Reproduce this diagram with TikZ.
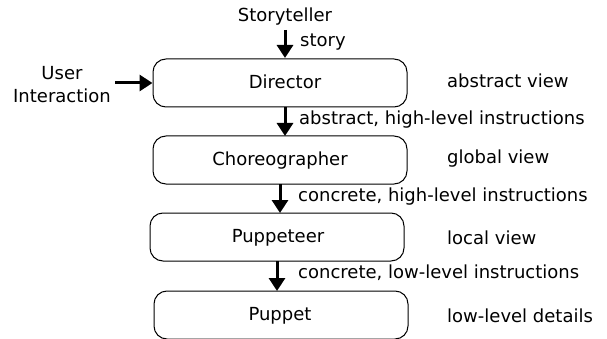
\documentclass[tikz,border=0pt]{standalone}
\usepackage{fontspec}
\setmainfont{DejaVu Sans}
\usetikzlibrary{arrows.meta}
\begin{document}
\begin{tikzpicture}[x=1pt,y=-1pt,
  box/.style={draw,line width=1pt,rounded corners=13pt,minimum width=254pt,minimum height=48pt,inner sep=0pt},
  txt/.style={font=\fontsize{18}{23}\selectfont,inner sep=0pt},
  lbl/.style={font=\fontsize{18}{23}\selectfont,inner sep=0pt,anchor=west},
  arr/.style={line width=3pt,-{Triangle[length=13pt,width=16pt]}}]
\useasboundingbox (0,0) rectangle (607,339);
\node[txt] (story) at (285,17) {Storyteller};
\node[box] (dir) at (280,83) {};
\node[txt] at (285,82) {Director};
\node[box] (cho) at (280,160) {};
\node[txt] at (280,161) {Choreographer};
\node[box] (pte) at (277,237) {};
\node[txt] at (278,238) {Puppeteer};
\node[box] (pup) at (281,315) {};
\node[txt] at (280,316) {Puppet};
\node[txt,align=center] (ui) at (62,85) {User\\Interaction};
\coordinate (u1) at (115,83);
\draw[arr] (u1) -- (dir.west);
\coordinate (s1) at (285,30);
\coordinate (s2) at (285,58);
\draw[arr] (s1) -- (s2);
\node[lbl] at (300,42) {story};
\coordinate (a1) at (285,107); \coordinate (a2) at (285,136);
\draw[arr] (a1) -- (a2);
\node[lbl] at (299,120) {abstract, high-level instructions};
\coordinate (b1) at (280,184); \coordinate (b2) at (280,213);
\draw[arr] (b1) -- (b2);
\node[lbl] at (298,197) {concrete, high-level instructions};
\coordinate (c1) at (277,261); \coordinate (c2) at (277,291);
\draw[arr] (c1) -- (c2);
\node[lbl] at (298,273) {concrete, low-level instructions};
\node[lbl] at (447,81) {abstract view};
\node[lbl] at (447,159) {global view};
\node[lbl] at (447,238) {local view};
\node[lbl] at (447,316) {low-level details};
\end{tikzpicture}
\end{document}
